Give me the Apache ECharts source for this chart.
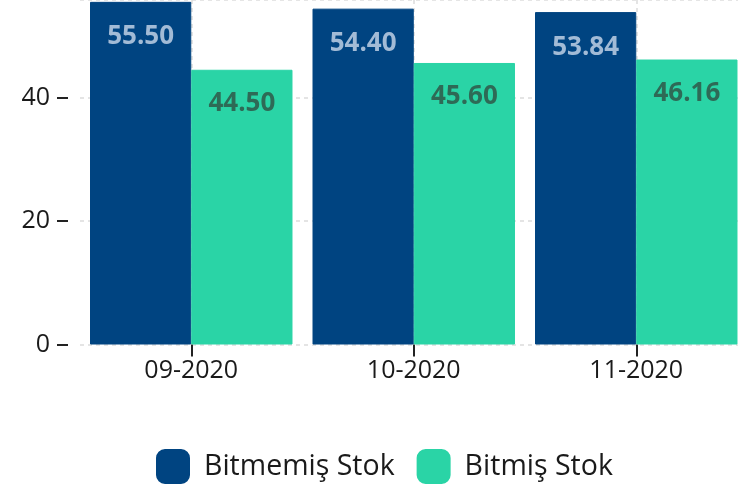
<!DOCTYPE html>
<html><head><meta charset="utf-8">
<script src="https://cdn.jsdelivr.net/npm/echarts@6/dist/echarts.min.js"></script>
<style>html,body{margin:0;padding:0;background:#fff}#c{width:738px;height:494px}</style>
</head><body><div id="c"></div>
<script>
const categories = ['09-2020', '10-2020', '11-2020'];
const bitmemis = [55.50, 54.40, 53.84];
const bitmis = [44.50, 45.60, 46.16];
const seriesNames = ['Bitmemiş Stok', 'Bitmiş Stok'];
const yTicks = [0, 20, 40];

// helper axis points: band edges and centres, used only to draw vertical grid lines at category centres
const halfSteps = [];
for (let i = 0; i <= categories.length * 2; i++) halfSteps.push(String(i));

const chart = echarts.init(document.getElementById('c'));
const font = '"Open Sans", "Noto Sans", sans-serif';
const gridStyle = { type: [4, 4], color: '#dcdcdc', width: 1.5 };
chart.setOption({
  animation: false,
  textStyle: { fontFamily: font },
  grid: { left: 80, width: 667.5, top: 0, bottom: 149.5, outerBoundsMode: 'none', containLabel: false },
  legend: {
    data: seriesNames, left: 156, top: 449, padding: 0,
    icon: 'roundRect', itemWidth: 32, itemHeight: 33, itemGap: 22,
    textStyle: { fontSize: 28.5, color: '#1a1a1a', fontFamily: font, padding: [0, 0, 0, 10] }
  },
  xAxis: [
    {
      type: 'category', data: categories,
      axisLine: { show: false },
      axisTick: { show: true, alignWithLabel: true, length: 12, lineStyle: { color: '#222', width: 2 } },
      axisLabel: { fontSize: 25, color: '#1a1a1a', margin: 14, fontFamily: font },
      splitLine: { show: false }
    },
    {
      type: 'category', data: halfSteps, boundaryGap: false, position: 'bottom',
      axisLine: { show: false }, axisTick: { show: false }, axisLabel: { show: false },
      splitLine: { show: true, interval: (i) => i % 2 === 1, lineStyle: gridStyle }
    }
  ],
  yAxis: {
    type: 'value', min: 0, max: 55.8, interval: 20, offset: 12,
    axisLine: { show: false },
    axisTick: { show: true, length: 11, lineStyle: { color: '#222', width: 2 } },
    axisLabel: { fontSize: 25, color: '#1a1a1a', margin: 18, showMaxLabel: false, fontFamily: font,
      formatter: v => yTicks.includes(v) ? String(v) : '' },
    splitLine: { show: true, lineStyle: gridStyle }
  },
  series: [
    {
      name: seriesNames[0], type: 'bar', data: bitmemis, barGap: '0%', barCategoryGap: '9%',
      itemStyle: { color: '#004481', borderColor: '#004481', borderWidth: 1 },
      label: { show: true, position: 'insideTop', distance: 22, fontSize: 26, fontWeight: 'bold',
        color: '#a2bbd6', fontFamily: font, formatter: p => p.value.toFixed(2) }
    },
    {
      name: seriesNames[1], type: 'bar', data: bitmis,
      itemStyle: { color: '#2ad4a6', borderColor: '#2ad4a6', borderWidth: 1 },
      label: { show: true, position: 'insideTop', distance: 21, fontSize: 26, fontWeight: 'bold',
        color: '#2e6a56', fontFamily: font, formatter: p => p.value.toFixed(2) }
    }
  ]
});
</script></body></html>
